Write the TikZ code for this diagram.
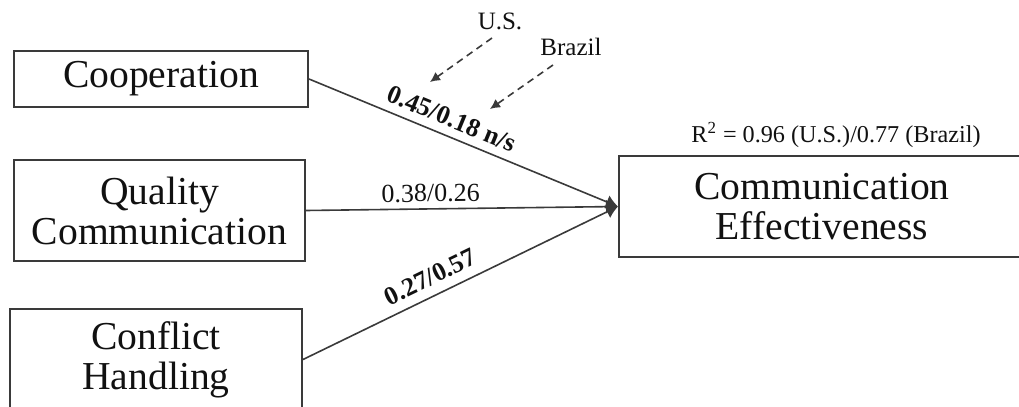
\documentclass[tikz,border=0pt]{standalone}
\usepackage{fontspec}
\setmainfont{Liberation Serif}
\usepackage{xcolor}
\usepackage{tikz}
\usetikzlibrary{arrows.meta}
\definecolor{edge}{HTML}{3A3A3A}
\definecolor{ink}{HTML}{111111}
\tikzset{
  factor/.style={draw=edge, line width=1pt, align=center, inner sep=0pt, text=ink,
    font=\fontsize{19.8}{20}\selectfont},
  path/.style={-{Latex[length=6pt,width=7pt]}, line width=0.8pt, draw=edge},
  hint/.style={-{Latex[length=5pt,width=5pt]}, line width=0.8pt, draw=edge, dash pattern=on 3.5pt off 2.5pt},
  coef/.style={sloped, inner sep=1pt, text=ink, font=\fontsize{13}{13}\selectfont},
  tag/.style={inner sep=0pt, text=ink, font=\fontsize{12.5}{13}\selectfont}
}

\begin{document}
\begin{tikzpicture}[x=0.5pt, y=-0.5pt]
  \clip (0,0) rectangle (1019,407);
  \node[factor, minimum width=147pt, minimum height=28pt] (coop) at (161,79) {Cooperation};
  \node[factor, minimum width=145.5pt, minimum height=50.5pt] (qual) at (159.5,210.5) {Quality\\Communication};
  \node[factor, minimum width=146pt, minimum height=50.5pt] (confl) at (156,359.5) {Conflict\\Handling};
  \node[factor, minimum width=203pt, minimum height=50.5pt] (ceff) at (822,206.5) {Communication\\Effectiveness};
  \node[tag, font=\fontsize{12.1}{13}\selectfont] (rsq) at (836,135) {R\textsuperscript{2} = 0.96 (U.S.)/0.77 (Brazil)};

  \draw[path] (coop.east) -- (ceff.west) node[coef, pos=0.44, above=3pt, font=\fontsize{13}{13}\bfseries] {0.45/0.18 n/s};
  \draw[path] (qual.east) -- (ceff.west) node[coef, pos=0.40, above=2pt] {0.38/0.26};
  \draw[path] (confl.east) -- (ceff.west) node[coef, pos=0.43, above=3.5pt, font=\fontsize{13}{13}\bfseries] {0.27/0.57};

  \node[tag] (us) at (500,21) {U.S.};
  \node[tag] (br) at (571,47) {Brazil};
  \coordinate (us-a) at (492,38);
  \coordinate (us-b) at (430,82);
  \coordinate (br-a) at (553,65);
  \coordinate (br-b) at (490,109);
  \draw[hint] (us-a) -- (us-b);
  \draw[hint] (br-a) -- (br-b);
\end{tikzpicture}
\end{document}
